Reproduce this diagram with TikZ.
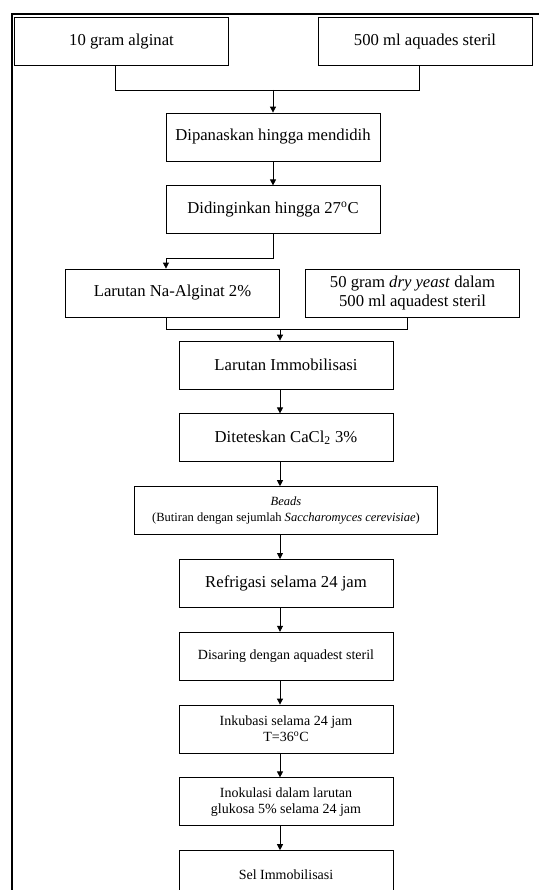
\documentclass[tikz,border=0pt]{standalone}
\usepackage{fontspec}
\setmainfont{Liberation Serif}
\usetikzlibrary{arrows.meta,positioning}

\begin{document}
\begin{tikzpicture}[x=0.75pt, y=-0.75pt, node distance=18pt, every node/.style={font=\fontsize{12.5}{14.5}\selectfont}]
\tikzset{box/.style={draw, semithick, align=center, minimum width=160.5pt, minimum height=36pt, inner sep=2pt}}
\tikzset{midtext/.style={font=\fontsize{10.5}{12}\selectfont}}
\tikzset{smalltext/.style={font=\fontsize{9.4}{11.6}\selectfont}}
\tikzset{arr/.style={semithick, -{Triangle[length=4.5pt, width=4.5pt]}}}
\useasboundingbox (0,0) rectangle (539,890);
\draw[line width=2pt] (12,14) rectangle (600,960);
\node[box] (alg) at (121.5,41.5) {10 gram alginat};
\node[box] (aqu) at (425,41.5) {500 ml aquades steril};
\node[box] (pan) at (273,137) {Dipanaskan hingga mendidih};
\node[box, below=of pan] (din) {Didinginkan hingga 27\textsuperscript{o}C};
\node[box] (nal) at (172.5,293) {Larutan Na-Alginat 2\%};
\node[box] (yst) at (412.5,293) {50 gram \textit{dry yeast} dalam\\500 ml aquadest steril};
\node[box] (imm) at (286,365) {Larutan Immobilisasi};
\node[box, below=of imm] (cac) {Diteteskan CaCl\textsubscript{2} 3\%};
\node[box, below=of cac, minimum width=227pt, smalltext] (bea) {\textit{Beads}\\(Butiran dengan sejumlah \textit{Saccharomyces cerevisiae})};
\node[box, below=of bea] (ref) {Refrigasi selama 24 jam};
\node[box, below=of ref, midtext] (dis) {Disaring dengan aquadest steril};
\node[box, below=of dis, midtext] (ink) {Inkubasi selama 24 jam\\T=36\textsuperscript{o}C};
\node[box, below=of ink, midtext] (ino) {Inokulasi dalam larutan\\glukosa 5\% selama 24 jam};
\node[box, below=of ino, midtext] (sel) {Sel Immobilisasi};
\coordinate (ax) at (280,0);
% penggabungan bahan awal
\draw[semithick] ([xshift=-4.9pt]alg.south) -- ++(0,24) coordinate (j1) -| ([xshift=-4.5pt]aqu.south);
\draw[arr] (j1 -| pan.north) -- (pan.north);
\draw[arr] (pan) -- (din);
\draw[arr] (din.south) -- ++(0,24) -| ([xshift=-4.9pt]nal.north);
\draw[semithick] ([xshift=-4.9pt]nal.south) -- ++(0,12) coordinate (j2) -| ([xshift=-4.1pt]yst.south);
% alur utama
\draw[arr] (j2 -| ax) -- (imm.north -| ax);
\draw[arr] (imm.south -| ax) -- (cac.north -| ax);
\draw[arr] (cac.south -| ax) -- (bea.north -| ax);
\draw[arr] (bea.south -| ax) -- (ref.north -| ax);
\draw[arr] (ref.south -| ax) -- (dis.north -| ax);
\draw[arr] (dis.south -| ax) -- (ink.north -| ax);
\draw[arr] (ink.south -| ax) -- (ino.north -| ax);
\draw[arr] (ino.south -| ax) -- (sel.north -| ax);
\end{tikzpicture}
\end{document}
